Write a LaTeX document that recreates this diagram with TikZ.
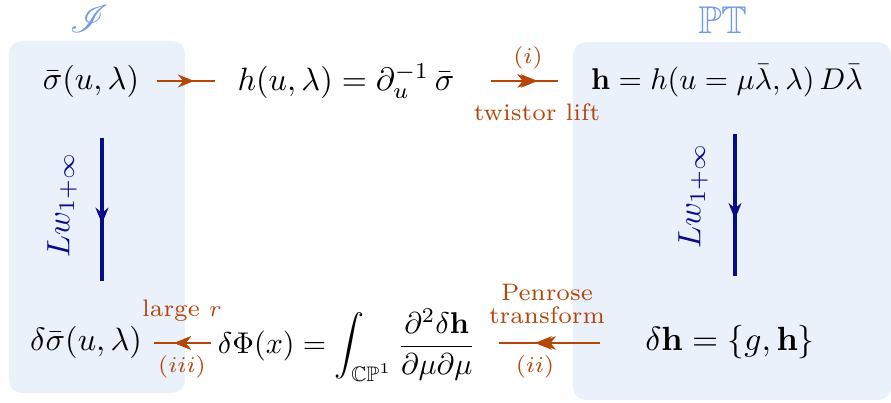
\documentclass[tikz,border=0pt]{standalone}
\usepackage{amsmath,amssymb,mathrsfs}
\usetikzlibrary{arrows.meta,decorations.markings}
\definecolor{boxbg}{RGB}{234,241,251}
\definecolor{mapcol}{RGB}{180,70,10}
\definecolor{lwcol}{RGB}{10,10,140}
\definecolor{ttlcol}{RGB}{110,155,230}
\tikzset{
  bgbox/.style={fill=boxbg, draw=none, rounded corners=4pt},
  midarrow/.style={decoration={markings, mark=at position #1 with {\arrow{Stealth[length=5pt,width=4pt]}}}, postaction={decorate}},
  maparrow/.style={draw=mapcol, fill=mapcol, line width=0.85pt, midarrow=0.64},
  lwarrow/.style={draw=lwcol, fill=lwcol, line width=1pt, midarrow=0.6},
  maplabel/.style={text=mapcol, font=\fontsize{7.4}{8.4}\selectfont, align=center, inner sep=0pt},
  mathnode/.style={inner sep=0pt},
  ttl/.style={text=ttlcol, inner sep=0pt},
}
\begin{document}
\begin{tikzpicture}[x=0.31pt, y=-0.31pt]
\useasboundingbox (0,0) rectangle (891,403);
% background boxes
\path[bgbox] (9,41) rectangle (185,393);
\path[bgbox] (573,42) rectangle (891,400);
% titles
\node[ttl, font=\large] (scri) at (89,19) {$\mathscr{I}$};
\node[ttl, font=\large] (pt) at (723,20) {$\mathbb{PT}$};
% top row
\node[mathnode] (sig) at (91,81) {$\bar\sigma(u,\lambda)$};
\node[mathnode] (hul) at (346,81) {$h(u,\lambda)=\partial_u^{-1}\,\bar\sigma$};
\node[mathnode, scale=0.93] (hb) at (727,81) {$\mathbf{h}=h(u=\mu\bar\lambda,\lambda)\,D\bar\lambda$};
% bottom row
\node[mathnode] (dsig) at (86,342) {$\delta\bar\sigma(u,\lambda)$};
\node[mathnode, scale=0.93] (dphi) at (347,345) {$\displaystyle\delta\Phi(x)=\int_{\mathbb{CP}^1}\frac{\partial^2\delta\mathbf{h}}{\partial\mu\partial\mu}$};
\node[mathnode, scale=1.04] (dh) at (730,342) {$\delta\mathbf{h}=\{g,\mathbf{h}\}$};
% arrow end points
\coordinate (a1s) at (157,81); \coordinate (a1e) at (215,81);
\coordinate (a2s) at (491,81); \coordinate (a2e) at (558,81);
\coordinate (a3s) at (600,343); \coordinate (a3e) at (499,343);
\coordinate (a4s) at (211,343); \coordinate (a4e) at (154,343);
\coordinate (l1s) at (102,138); \coordinate (l1e) at (102,281);
\coordinate (l2s) at (735,134); \coordinate (l2e) at (735,276);
% arrows
\draw[maparrow] (a1s) -- (a1e);
\draw[maparrow, midarrow=0.69] (a2s) -- (a2e);
\draw[maparrow, midarrow=0.6] (a3s) -- (a3e);
\draw[maparrow, midarrow=0.64] (a4s) -- (a4e);
\draw[lwarrow] (l1s) -- (l1e);
\draw[lwarrow] (l2s) -- (l2e);
% labels
\node[maplabel] (li) at (528,58) {$(i)$};
\node[maplabel] (ltw) at (537,112) {twistor lift};
\node[maplabel] (lpen) at (547,304) {Penrose\\[-1pt]transform};
\node[maplabel] (lii) at (535,367) {$(ii)$};
\node[maplabel] (llr) at (182,311) {large $r$};
\node[maplabel] (liii) at (182,367) {$(iii)$};
\node[text=lwcol, rotate=90, inner sep=0pt] (lw1) at (62,205) {$Lw_{1+\infty}$};
\node[text=lwcol, rotate=90, inner sep=0pt] (lw2) at (693,196) {$Lw_{1+\infty}$};
\end{tikzpicture}
\end{document}
